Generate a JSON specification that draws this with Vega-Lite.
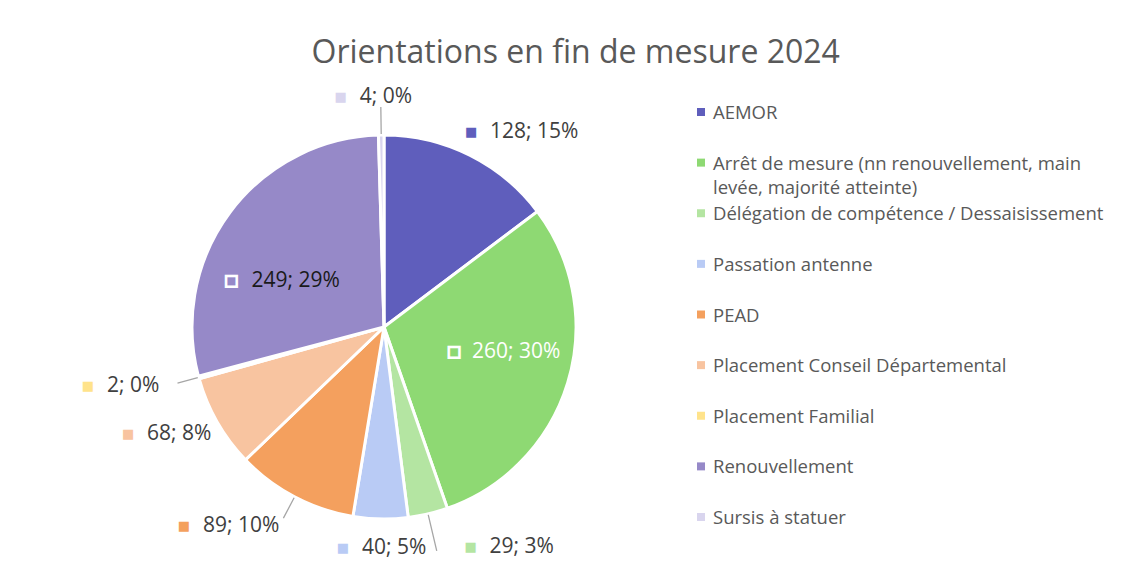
{
  "$schema": "https://vega.github.io/schema/vega-lite/v6.json",
  "background": "white",
  "padding": {"left": 80, "top": 37, "right": 0, "bottom": 0},
  "title": {"text": "Orientations en fin de mesure 2024", "font": "Open Sans", "fontSize": 32, "fontWeight": "normal", "color": "#595959", "anchor": "middle", "offset": 14, "dx": -16},
  "datasets": {
    "orientations": [
      {"categorie": "AEMOR", "legende": "AEMOR", "nombre": 128, "etiquette": "128; 15%", "ordre": 1},
      {"categorie": "Arrêt de mesure (nn renouvellement, main levée, majorité atteinte)", "legende": "Arrêt de mesure (nn renouvellement, main\nlevée, majorité atteinte)", "nombre": 260, "etiquette": "260; 30%", "ordre": 2},
      {"categorie": "Délégation de compétence / Dessaisissement", "legende": "Délégation de compétence / Dessaisissement", "nombre": 29, "etiquette": "29; 3%", "ordre": 3},
      {"categorie": "Passation antenne", "legende": "Passation antenne", "nombre": 40, "etiquette": "40; 5%", "ordre": 4},
      {"categorie": "PEAD", "legende": "PEAD", "nombre": 89, "etiquette": "89; 10%", "ordre": 5},
      {"categorie": "Placement Conseil Départemental", "legende": "Placement Conseil Départemental", "nombre": 68, "etiquette": "68; 8%", "ordre": 6},
      {"categorie": "Placement Familial", "legende": "Placement Familial", "nombre": 2, "etiquette": "2; 0%", "ordre": 7},
      {"categorie": "Renouvellement", "legende": "Renouvellement", "nombre": 249, "etiquette": "249; 29%", "ordre": 8},
      {"categorie": "Sursis à statuer", "legende": "Sursis à statuer", "nombre": 4, "etiquette": "4; 0%", "ordre": 9}
    ]
  },
  "data": {"name": "orientations"},
  "spacing": 5,
  "hconcat": [
    {
      "width": 608,
      "height": 486,
      "encoding": {
        "theta": {"field": "nombre", "type": "quantitative", "stack": true},
        "order": {"field": "ordre", "type": "quantitative"}
      },
      "layer": [
        {
          "mark": {"type": "arc", "outerRadius": 192, "stroke": "white", "strokeWidth": 3},
          "encoding": {
            "color": {"field": "categorie", "type": "nominal", "legend": null,
              "scale": {"domain": ["AEMOR", "Arrêt de mesure (nn renouvellement, main levée, majorité atteinte)", "Délégation de compétence / Dessaisissement", "Passation antenne", "PEAD", "Placement Conseil Départemental", "Placement Familial", "Renouvellement", "Sursis à statuer"],
                        "range": ["#5F5EBC", "#8ED973", "#B4E5A2", "#B9CBF5", "#F4A05E", "#F8C4A0", "#FFE38B", "#9689C8", "#D9D5EE"]}}
          }
        },
        {"mark": {"type": "arc", "clip": true, "innerRadius": 193, "outerRadius": 220, "padAngle": 1, "filled": false, "stroke": "#A6A6A6", "strokeWidth": 1.3},
         "encoding": {"strokeOpacity": {"condition": {"test": "datum.ordre === 9", "value": 1}, "value": 0}}},
        {"mark": {"type": "arc", "clip": true, "innerRadius": 193, "outerRadius": 214, "padAngle": 1, "filled": false, "stroke": "#A6A6A6", "strokeWidth": 1.3},
         "encoding": {"strokeOpacity": {"condition": {"test": "datum.ordre === 7", "value": 1}, "value": 0}}},
        {"mark": {"type": "arc", "clip": true, "innerRadius": 193, "outerRadius": 230, "padAngle": 1, "filled": false, "stroke": "#A6A6A6", "strokeWidth": 1.3},
         "encoding": {"strokeOpacity": {"condition": {"test": "datum.ordre === 3", "value": 1}, "value": 0}}},
        {"mark": {"type": "arc", "clip": true, "innerRadius": 193, "outerRadius": 216, "padAngle": 1, "filled": false, "stroke": "#A6A6A6", "strokeWidth": 1.3},
         "encoding": {"strokeOpacity": {"condition": {"test": "datum.ordre === 5", "value": 1}, "value": 0}}},
        {"mark": {"type": "text", "clip": true, "radius": 222, "dx": 7, "dy": 4, "align": "left", "baseline": "middle", "fontSize": 21, "font": "Open Sans", "fill": "#404040"},
         "encoding": {"text": {"condition": {"test": "datum.ordre === 1", "field": "etiquette"}, "value": ""}}},
        {"mark": {"type": "text", "clip": true, "radius": 238, "dx": 51, "dy": -12, "align": "left", "baseline": "middle", "fontSize": 21, "font": "Open Sans", "fill": "#404040"},
         "encoding": {"text": {"condition": {"test": "datum.ordre === 3", "field": "etiquette"}, "value": ""}}},
        {"mark": {"type": "text", "clip": true, "radius": 221, "dx": -18, "dy": 0, "align": "left", "baseline": "middle", "fontSize": 21, "font": "Open Sans", "fill": "#404040"},
         "encoding": {"text": {"condition": {"test": "datum.ordre === 4", "field": "etiquette"}, "value": ""}}},
        {"mark": {"type": "text", "clip": true, "radius": 260, "dx": -60, "dy": -31, "align": "left", "baseline": "middle", "fontSize": 21, "font": "Open Sans", "fill": "#404040"},
         "encoding": {"text": {"condition": {"test": "datum.ordre === 5", "field": "etiquette"}, "value": ""}}},
        {"mark": {"type": "text", "clip": true, "radius": 259, "dx": -12, "dy": -21, "align": "left", "baseline": "middle", "fontSize": 21, "font": "Open Sans", "fill": "#404040"},
         "encoding": {"text": {"condition": {"test": "datum.ordre === 6", "field": "etiquette"}, "value": ""}}},
        {"mark": {"type": "text", "clip": true, "radius": 283, "dx": -4, "dy": -15, "align": "left", "baseline": "middle", "fontSize": 21, "font": "Open Sans", "fill": "#404040"},
         "encoding": {"text": {"condition": {"test": "datum.ordre === 7", "field": "etiquette"}, "value": ""}}},
        {"mark": {"type": "text", "clip": true, "radius": 230, "dx": -21, "dy": 0, "align": "left", "baseline": "middle", "fontSize": 21, "font": "Open Sans", "fill": "#404040"},
         "encoding": {"text": {"condition": {"test": "datum.ordre === 9", "field": "etiquette"}, "value": ""}}},
        {"mark": {"type": "text", "clip": true, "radius": 92, "dx": 0, "dy": -2, "align": "left", "baseline": "middle", "fontSize": 21, "font": "Open Sans", "fill": "white"},
         "encoding": {"text": {"condition": {"test": "datum.ordre === 2", "field": "etiquette"}, "value": ""}}},
        {"mark": {"type": "text", "clip": true, "radius": 133, "dx": -26, "dy": 34, "align": "left", "baseline": "middle", "fontSize": 21, "font": "Open Sans", "fill": "#1A1A1A"},
         "encoding": {"text": {"condition": {"test": "datum.ordre === 8", "field": "etiquette"}, "value": ""}}},
        {"mark": {"type": "text", "clip": true, "radius": 222, "dx": -12, "dy": 4, "align": "center", "baseline": "middle", "fontSize": 13, "font": "DejaVu Sans"},
         "encoding": {"text": {"condition": {"test": "datum.ordre === 1", "value": "■"}, "value": ""},
                      "color": {"field": "categorie", "type": "nominal", "legend": null}}},
        {"mark": {"type": "text", "clip": true, "radius": 238, "dx": 32, "dy": -12, "align": "center", "baseline": "middle", "fontSize": 13, "font": "DejaVu Sans"},
         "encoding": {"text": {"condition": {"test": "datum.ordre === 3", "value": "■"}, "value": ""},
                      "color": {"field": "categorie", "type": "nominal", "legend": null}}},
        {"mark": {"type": "text", "clip": true, "radius": 221, "dx": -37, "dy": 0, "align": "center", "baseline": "middle", "fontSize": 13, "font": "DejaVu Sans"},
         "encoding": {"text": {"condition": {"test": "datum.ordre === 4", "value": "■"}, "value": ""},
                      "color": {"field": "categorie", "type": "nominal", "legend": null}}},
        {"mark": {"type": "text", "clip": true, "radius": 260, "dx": -79, "dy": -31, "align": "center", "baseline": "middle", "fontSize": 13, "font": "DejaVu Sans"},
         "encoding": {"text": {"condition": {"test": "datum.ordre === 5", "value": "■"}, "value": ""},
                      "color": {"field": "categorie", "type": "nominal", "legend": null}}},
        {"mark": {"type": "text", "clip": true, "radius": 259, "dx": -31, "dy": -21, "align": "center", "baseline": "middle", "fontSize": 13, "font": "DejaVu Sans"},
         "encoding": {"text": {"condition": {"test": "datum.ordre === 6", "value": "■"}, "value": ""},
                      "color": {"field": "categorie", "type": "nominal", "legend": null}}},
        {"mark": {"type": "text", "clip": true, "radius": 283, "dx": -23, "dy": -15, "align": "center", "baseline": "middle", "fontSize": 13, "font": "DejaVu Sans"},
         "encoding": {"text": {"condition": {"test": "datum.ordre === 7", "value": "■"}, "value": ""},
                      "color": {"field": "categorie", "type": "nominal", "legend": null}}},
        {"mark": {"type": "text", "clip": true, "radius": 230, "dx": -40, "dy": 0, "align": "center", "baseline": "middle", "fontSize": 13, "font": "DejaVu Sans"},
         "encoding": {"text": {"condition": {"test": "datum.ordre === 9", "value": "■"}, "value": ""},
                      "color": {"field": "categorie", "type": "nominal", "legend": null}}},
        {"mark": {"type": "text", "clip": true, "radius": 92, "dx": -18, "dy": -2, "align": "center", "baseline": "middle", "fontSize": 14, "font": "DejaVu Sans", "stroke": "white", "strokeWidth": 2.5},
         "encoding": {"text": {"condition": {"test": "datum.ordre === 2", "value": "■"}, "value": ""},
                      "color": {"field": "categorie", "type": "nominal", "legend": null}}},
        {"mark": {"type": "text", "clip": true, "radius": 133, "dx": -46, "dy": 34, "align": "center", "baseline": "middle", "fontSize": 14, "font": "DejaVu Sans", "stroke": "white", "strokeWidth": 2.5},
         "encoding": {"text": {"condition": {"test": "datum.ordre === 8", "value": "■"}, "value": ""},
                      "color": {"field": "categorie", "type": "nominal", "legend": null}}}
      ]
    },
    {
      "width": 16,
      "height": 461,
      "encoding": {
        "y": {"field": "categorie", "type": "nominal", "axis": null,
              "sort": ["AEMOR", "Arrêt de mesure (nn renouvellement, main levée, majorité atteinte)", "Délégation de compétence / Dessaisissement", "Passation antenne", "PEAD", "Placement Conseil Départemental", "Placement Familial", "Renouvellement", "Sursis à statuer"],
              "scale": {"padding": 0.553}}
      },
      "layer": [
        {"mark": {"type": "point", "shape": "square", "filled": true, "size": 64, "opacity": 1},
         "encoding": {"color": {"field": "categorie", "type": "nominal", "legend": null}}},
        {"mark": {"type": "text", "align": "left", "baseline": "top", "dx": 12, "dy": -8, "fontSize": 18.5, "lineHeight": 24, "lineBreak": "\n", "font": "Open Sans", "fill": "#595959"},
         "encoding": {"text": {"field": "legende"}}}
      ]
    }
  ],
  "config": {"view": {"stroke": null}}
}
